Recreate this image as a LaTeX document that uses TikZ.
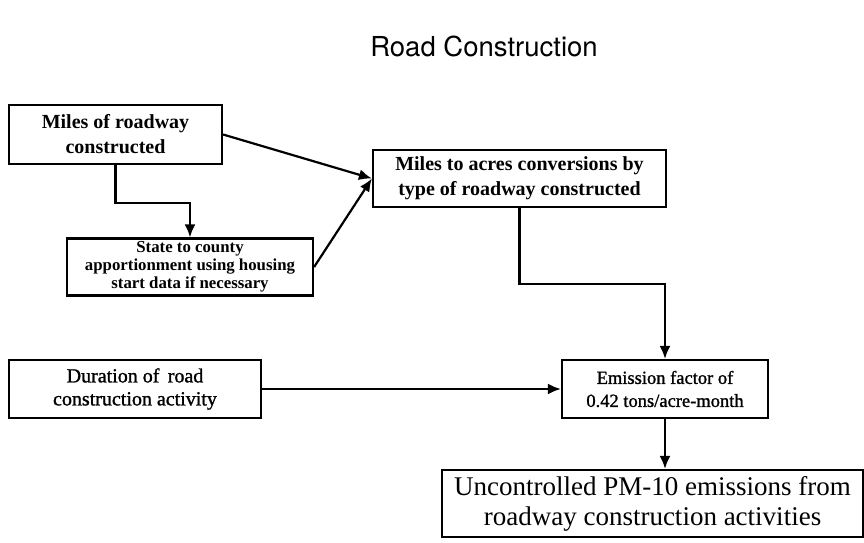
\documentclass[tikz,border=0pt]{standalone}
\usepackage{fontspec}
\setmainfont{Liberation Serif}
\newfontfamily\headfont{TeX Gyre Heros}
\newfontfamily\denseserif{Liberation Serif}[FakeBold=1.2]
\usetikzlibrary{arrows.meta, positioning}

\begin{document}
\begin{tikzpicture}[x=1pt, y=-1pt,
    box/.style={draw, line width=2.2pt, align=center, inner sep=0pt},
    link/.style={-{Latex[length=13pt, width=11pt]}, line width=2.2pt}]
    \useasboundingbox (0,0) rectangle (864,542);
    \node[font=\headfont\fontsize{27.5}{32}\selectfont] (title) at (484,46) {Road Construction};
    \node[box, minimum width=213pt, minimum height=59pt, font=\bfseries\fontsize{20}{25}\selectfont] (miles) at (115.5,134.5) {Miles of roadway\\constructed};
    \node[box, minimum width=246pt, minimum height=57pt, font=\bfseries\fontsize{16.8}{18}\selectfont] (state) at (190,267) {State to county\\apportionment using housing\\start data if necessary};
    \node[box, minimum width=293pt, minimum height=57pt, font=\bfseries\fontsize{20}{25}\selectfont] (acres) at (519.5,178.5) {Miles to acres conversions by\\type of roadway constructed};
    \node[box, minimum width=252pt, minimum height=58pt, font=\denseserif\fontsize{20}{23}\selectfont] (duration) at (135,389) {Duration of\, road\\construction activity};
    \node[box, minimum width=206pt, minimum height=58pt, font=\denseserif\fontsize{18.5}{23}\selectfont] (factor) at (665,389) {Emission factor of\\0.42 tons/acre-month};
    \node[box, minimum width=421pt, minimum height=67pt, font=\fontsize{27}{30}\selectfont] (pm) at (652.5,503.5) {Uncontrolled PM-10 emissions from\\roadway construction activities};
    \draw[link] (miles.east) -- (acres.west);
    \draw[link] (state.east) -- (acres.west);
    \draw[link] (miles.south) -- ++(0,38) -| (state.north);
    \draw[link] (acres.south) -- ++(0,76) -| (factor.north);
    \draw[link] (duration.east) -- (factor.west);
    \draw[link] (factor.south) -- (factor.south |- pm.north);
\end{tikzpicture}
\end{document}
